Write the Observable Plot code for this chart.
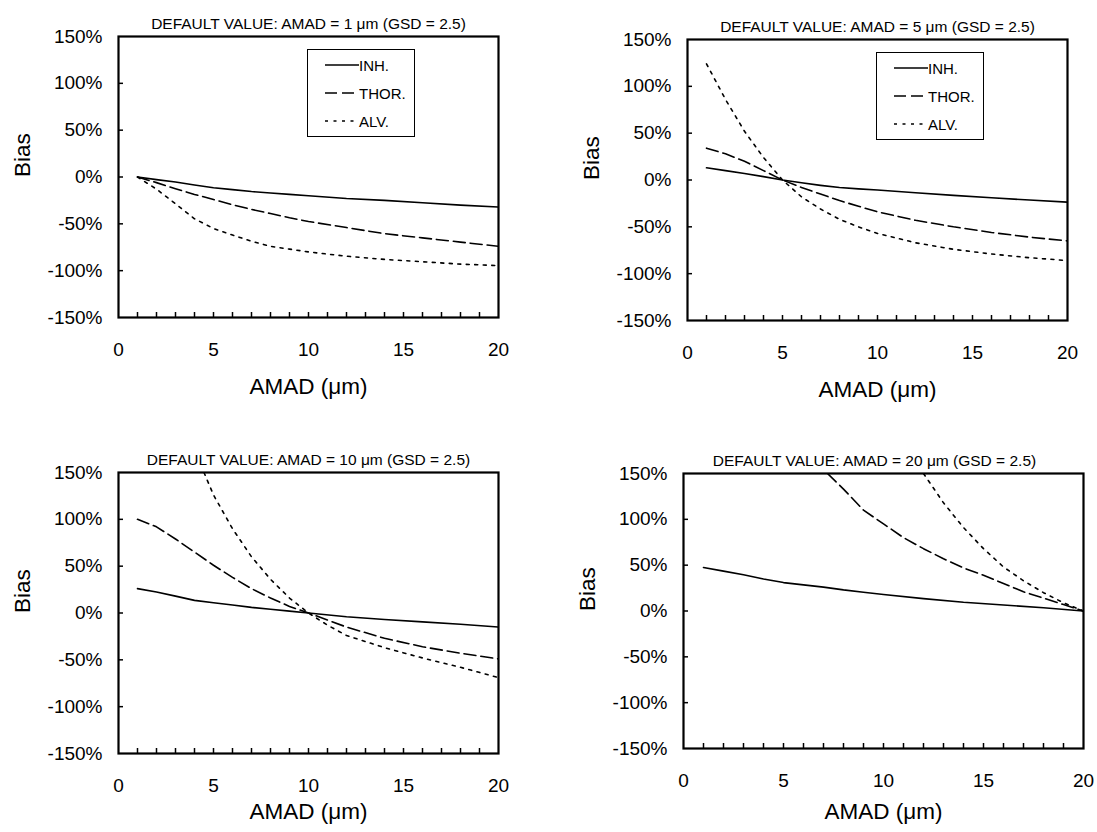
<!DOCTYPE html>
<html>
<head>
<meta charset="utf-8">
<script src="https://cdn.jsdelivr.net/npm/d3@7"></script>
<script src="https://cdn.jsdelivr.net/npm/@observablehq/plot@0.6"></script>
<style>
  html, body { margin: 0; padding: 0; background: #fff; }
  #wrap { position: relative; width: 1097px; height: 832px; overflow: hidden; font-family: "Liberation Sans", Arial, sans-serif; }
  .panel { position: absolute; }
  .legend { position: absolute; border: 1.5px solid #000; background: #fff; box-sizing: border-box; }
  .legend .row { position: absolute; left: 0; height: 20px; display: flex; align-items: center; font-size: 15px; color: #000; }
  .legend svg { display: block; }
</style>
</head>
<body>
<div id="wrap"></div>
<script>
// ---- data ----
const seriesNames = ["INH.", "THOR.", "ALV."];
const panelTitles = [
  "DEFAULT VALUE: AMAD = 1 \u03bcm (GSD = 2.5)",
  "DEFAULT VALUE: AMAD = 5 \u03bcm (GSD = 2.5)",
  "DEFAULT VALUE: AMAD = 10 \u03bcm (GSD = 2.5)",
  "DEFAULT VALUE: AMAD = 20 \u03bcm (GSD = 2.5)"
];
const xTickLabels = [0, 5, 10, 15, 20];
const xMinorTicks = [1,2,3,4,5,6,7,8,9,10,11,12,13,14,15,16,17,18,19];
const yTickValues = [-150, -100, -50, 0, 50, 100, 150];
const xLabel = "AMAD (\u03bcm)";
const yLabel = "Bias";

const amadGrid = [1, 2, 3, 4, 5, 6, 7, 8, 9, 10, 12, 14, 16, 18, 20];

// Panel 1: default AMAD = 1 um
const p1Inh  = [0, -2.8, -5.4, -8.5, -11.4, -13.5, -15.5, -17, -18.5, -20, -23, -25, -27.5, -30, -32];
const p1Thor = [0, -6, -12.5, -18.6, -24, -29.6, -34.6, -39, -43.5, -47.5, -54, -60.5, -65, -69.5, -74];
const p1Alv  = [0, -13, -28.6, -44.6, -55, -62, -68.6, -74, -77, -80, -84.6, -88, -90.5, -93, -94.6];

// Panel 2: default AMAD = 5 um
const p2Inh  = [13, 10, 7, 3.6, 0, -3, -5.7, -8, -9.5, -10.7, -13.6, -16.4, -19, -21.4, -23.6];
const p2Thor = [34, 28, 20, 10, 0, -8, -15, -22, -28, -34, -43, -50, -56, -61, -65];
const p2Alv  = [124, 86, 52, 24, 0, -18, -31, -42, -50, -57, -67, -74, -79, -83, -86];

// Panel 3: default AMAD = 10 um
const p3Inh  = [26, 22.5, 18, 13.5, 11, 8.5, 6, 4, 2, 0, -4, -7, -9.5, -12, -15];
const p3Thor = [100, 92, 79, 65, 51, 38, 26, 16, 7, 0, -15, -27, -36, -43, -49];
const p3AlvX = [4.5, 5, 6, 7, 8, 9, 10, 11, 12, 14, 16, 18, 20];
const p3Alv  = [150, 126, 90, 60, 36, 16, 0, -13, -24, -37, -48, -58, -69];

// Panel 4: default AMAD = 20 um
const p4Inh  = [47.5, 43.5, 39.5, 35, 31, 28.5, 26, 23, 20.5, 18, 13.5, 9.5, 6.5, 3.5, 0];
const p4ThorX = [7.2, 8, 9, 10, 11, 12, 13, 14, 15, 16, 17, 18, 19, 20];
const p4Thor  = [150, 133, 110, 95, 80, 68, 57, 47, 39, 30, 21, 14, 7, 0];
const p4AlvX = [12, 13, 14, 15, 16, 17, 18, 19, 20];
const p4Alv  = [150, 118, 91, 68, 48, 33, 20, 9, 0];

// ---- styles ----
const dash = {"INH.": null, "THOR.": "12,5", "ALV.": "3,5.5"};
const FONT = "Liberation Sans, Arial, Helvetica, sans-serif";

function rows(name, xs, ys) { return xs.map((x, i) => ({series: name, x, y: ys[i]})); }

const panels = [
  {left: 0,   top: 0,   w: 548, h: 416, ml: 118, mr: 50, mt: 36, mb: 99, titleDx: 0, xlabDy: 76, legend: true,
   data: [rows("INH.", amadGrid, p1Inh), rows("THOR.", amadGrid, p1Thor), rows("ALV.", amadGrid, p1Alv)]},
  {left: 548, top: 0,   w: 549, h: 416, ml: 139, mr: 30, mt: 39, mb: 96, titleDx: 0, xlabDy: 76, legend: true,
   data: [rows("INH.", amadGrid, p2Inh), rows("THOR.", amadGrid, p2Thor), rows("ALV.", amadGrid, p2Alv)]},
  {left: 0,   top: 416, w: 548, h: 416, ml: 118, mr: 50, mt: 56, mb: 79, titleDx: 0, xlabDy: 65, legend: false,
   data: [rows("INH.", amadGrid, p3Inh), rows("THOR.", amadGrid, p3Thor), rows("ALV.", p3AlvX, p3Alv)]},
  {left: 548, top: 416, w: 549, h: 416, ml: 135, mr: 14, mt: 57, mb: 84, titleDx: -9, xlabDy: 70, legend: false,
   data: [rows("INH.", amadGrid, p4Inh), rows("THOR.", p4ThorX, p4Thor), rows("ALV.", p4AlvX, p4Alv)]}
];

const wrap = document.getElementById("wrap");

panels.forEach((p, pi) => {
  const fw = p.w - p.ml - p.mr;
  const fh = p.h - p.mt - p.mb;
  const lineMarks = p.data.map(d => Plot.line(d, {
    x: "x", y: "y", stroke: "black", strokeWidth: 1.6,
    strokeDasharray: dash[d[0].series] || undefined, clip: true
  }));
  const chart = Plot.plot({
    width: p.w, height: p.h,
    marginLeft: p.ml, marginRight: p.mr, marginTop: p.mt, marginBottom: p.mb,
    style: {fontFamily: FONT, background: "transparent", color: "black", overflow: "visible"},
    x: {domain: [0, 20]},
    y: {domain: [-150, 150]},
    marks: [
      ...lineMarks,
      Plot.tickX(xMinorTicks, {x: d => d, insetTop: fh - 5, stroke: "black", strokeWidth: 1.5}),
      Plot.tickY(yTickValues.slice(1, -1), {y: d => d, insetRight: fw - 5, stroke: "black", strokeWidth: 1.5}),
      Plot.frame({stroke: "black", strokeWidth: 2.2}),
      Plot.axisX({ticks: xTickLabels, tickSize: 0, tickPadding: 25, fontSize: 19, label: null}),
      Plot.axisY({ticks: yTickValues, tickSize: 0, tickPadding: 16, fontSize: 19, label: null, tickFormat: d => d + "%"}),
      Plot.text([panelTitles[pi]], {text: d => d, frameAnchor: "top", dy: -19, dx: p.titleDx, fontSize: 15.5}),
      Plot.text([xLabel], {text: d => d, frameAnchor: "bottom", dy: p.xlabDy, fontSize: 22.5}),
      Plot.text([yLabel], {text: d => d, frameAnchor: "left", dx: -96, rotate: -90, fontSize: 22.5})
    ]
  });
  chart.classList.add("panel");
  chart.style.left = p.left + "px";
  chart.style.top = p.top + "px";
  wrap.appendChild(chart);

  if (p.legend) {
    const lg = document.createElement("div");
    lg.className = "legend";
    const gx = p.left + p.ml + 189, gy = p.top + p.mt + 13;
    lg.style.left = gx + "px"; lg.style.top = gy + "px";
    lg.style.width = "108px"; lg.style.height = "88px";
    seriesNames.forEach((name, i) => {
      const r = document.createElement("div");
      r.className = "row";
      r.style.top = (5 + i * 28) + "px";
      r.style.left = "17px";
      const da = dash[name] ? ` stroke-dasharray="${dash[name]}"` : "";
      r.innerHTML = `<svg width="34" height="20"><line x1="0" x2="34" y1="10" y2="10" stroke="black" stroke-width="1.6"${da}/></svg><span>${name}</span>`;
      lg.appendChild(r);
    });
    wrap.appendChild(lg);
  }
});
</script>
</body>
</html>
